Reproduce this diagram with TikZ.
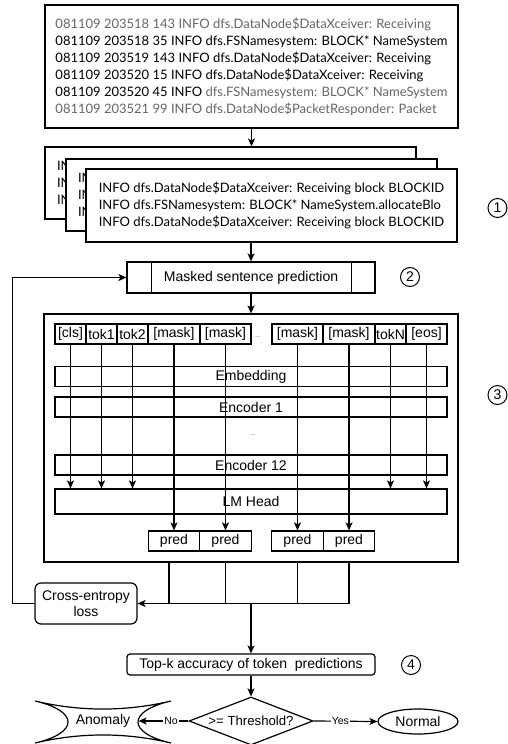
\documentclass[tikz,border=0pt]{standalone}
\usepackage{fontspec}
\setmainfont{Liberation Sans}
\newfontfamily\logfont{Lato}
\usetikzlibrary{shapes.geometric, arrows.meta, positioning, calc}
\colorlet{loggray}{black!60}

\begin{document}
\begin{tikzpicture}[
  x=1pt, y=-1pt,
  font=\fontsize{14}{16}\selectfont,
  line width=1.2pt,
  box/.style={rectangle, draw=black, fill=white, inner sep=0pt},
  logbox/.style={box, font=\logfont\fontsize{13}{17}\selectfont, align=left},
  backbox/.style={logbox, text width=347pt, inner xsep=12pt, minimum height=72pt},
  tok/.style={box, minimum height=20pt},
  layer/.style={box, minimum width=392pt, minimum height=20pt},
  pred/.style={box, minimum width=51.5pt, minimum height=20pt},
  stage/.style={box, minimum width=248pt},
  num/.style={circle, draw=black, line width=1pt, minimum size=19pt, inner sep=0pt},
  dots/.style={font=\fontsize{7}{7}\selectfont, text=black!55},
  arr/.style={-{Stealth[length=8pt, width=7pt, inset=2pt]}},
  lbl/.style={font=\fontsize{10.5}{11}\selectfont, fill=white, inner sep=1pt},
]
\useasboundingbox (0,0) rectangle (508,744);
% raw HDFS log lines
\node (raw) [logbox, minimum width=413pt, minimum height=123pt] at (251.5,66.5)
  {{\color{loggray}081109 203518 143 INFO dfs.DataNode\$DataXceiver: Receiving}\\
   081109 203518 35 INFO dfs.FSNamesystem: BLOCK* NameSystem\\
   081109 203519 143 INFO dfs.DataNode\$DataXceiver: Receiving\\
   081109 203520 15 INFO dfs.DataNode\$DataXceiver: Receiving\\
   081109 203520 45 INFO {\color{loggray}dfs.FSNamesystem: BLOCK* NameSystem}\\
   {\color{loggray}081109 203521 99 INFO dfs.DataNode\$PacketResponder: Packet}};
% parsed sessions (stacked, the back ones mostly hidden)
\node (sA) [backbox] at (230.5,183) {IN\\IN\\IN};
\node (sB) [backbox] at (251.5,195) {IN\\IN\\IN};
\node (sC) [logbox, minimum width=371pt, minimum height=73pt] at (271.5,205.5)
  {INFO dfs.DataNode\$DataXceiver: Receiving block BLOCKID\\
   INFO dfs.FSNamesystem: BLOCK* NameSystem.allocateBlo\\
   INFO dfs.DataNode\$DataXceiver: Receiving block BLOCKID};
\node (n1) [num] at (497.5,208) {1};
% masked sentence prediction
\node (mlm) [stage, minimum height=31pt] at (251,277.5) {Masked sentence prediction};
\draw ([xshift=25pt]mlm.north west) -- ([xshift=25pt]mlm.south west);
\draw ([xshift=-24pt]mlm.north east) -- ([xshift=-24pt]mlm.south east);
\node (n2) [num] at (410,277) {2};
% BERT model
\node (bert) [box, minimum width=414pt, minimum height=248pt] at (251,438) {};
\node (n3) [num] at (497.5,395) {3};
\foreach \n/\t/\x/\w in {cls/[cls]/70.5/31, t1/tok1/101.5/31, t2/tok2/132.5/31,
                         m1/[mask]/174/52, m2/[mask]/225.5/51, m3/[mask]/297.5/51,
                         m4/[mask]/349/52, tN/tokN/390.5/31, eos/[eos]/426.5/41}
  \node (\n) [tok, minimum width=\w pt] at (\x,334) {\t};
\node (d1) [dots] at (258,337) {...};
\node (emb)  [layer] at (251,376.5) {Embedding};
\node (enc1) [layer] at (251,407) {Encoder 1};
\node (d2)   [dots] at (253,435) {...};
\node (enc12) [layer] at (251,465) {Encoder 12};
\node (lmh)  [layer, minimum height=25pt] at (251,501.5) {LM Head};
\foreach \n/\x in {p1/174, p2/225.5, p3/297.5, p4/349}
  \node (\n) [pred] at (\x,541) {pred};
% token columns
\foreach \a in {cls,t1,t2,tN,eos}
  \draw [arr] (\a.south) -- (\a.south |- lmh.north);
\foreach \a/\b in {m1/p1,m2/p2,m3/p3,m4/p4}
  \draw [arr] (\a.south) -- (\b.north);
% loss and scoring
\node (loss) [box, rounded corners=6pt, minimum width=102pt, minimum height=41pt,
              align=center] at (86,603.5) {Cross-entropy\\loss};
\coordinate (bus) at (0,603.5);
\foreach \p/\s in {p1/-5,p2/0,p3/0,p4/0}
  \draw ([xshift=\s pt]\p.south |- bert.south) -- ([xshift=\s pt]\p.south |- bus);
\draw [arr] (p4 |- bus) -- (loss.east);
\draw [arr] (loss.west) -- ++(-22,0) |- (mlm.west);
\node (topk) [stage, rounded corners=3pt, minimum height=21pt] at (251,664.5)
  {Top-k accuracy of token\ \ predictions};
\node (n4) [num] at (411,665) {4};
\node (thr) [diamond, draw=black, fill=white, minimum width=124pt, minimum height=48pt,
             inner sep=0pt, font=\fontsize{13.2}{14}\selectfont] at (251,721)
  {\makebox[0pt]{>= Threshold?}};
\node (normal) [ellipse, draw=black, minimum width=80pt, minimum height=25pt,
                inner sep=0pt] at (418,721.5) {Normal};
\draw (35,701) .. controls (80,711.7) and (126,711.7) .. (171,701)
      .. controls (127,711) and (127,733) .. (171,743)
      .. controls (126,732.3) and (80,732.3) .. (35,743)
      .. controls (79,733) and (79,711) .. cycle;
\node (anomaly) [minimum width=70pt, inner sep=0pt] at (103,721) {Anomaly};
% edges
\draw [arr] (raw.south) -- (raw.south |- sA.north);
\draw [arr] (mlm.north |- sC.south) -- (mlm.north);
\draw [arr] (mlm.south) -- (bert.north);
\draw [arr] (bert.south |- bus) -- (topk.north);
\draw [arr] (topk.south) -- (thr.north);
\draw [arr] (thr.west) -- node[lbl, pos=0.35]{No} (anomaly.east);
\draw [arr] (thr.east) -- node[lbl, pos=0.42]{Yes} (normal.west);
\end{tikzpicture}
\end{document}
